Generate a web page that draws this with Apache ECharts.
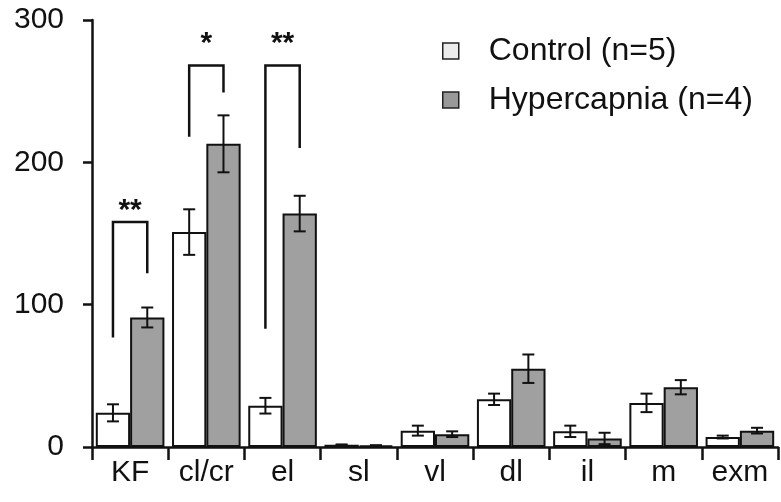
<!DOCTYPE html>
<html>
<head>
<meta charset="utf-8">
<script src="https://cdn.jsdelivr.net/npm/echarts@6/dist/echarts.min.js"></script>
<style>
  html, body { margin: 0; padding: 0; background: #fff; }
  #chart { width: 781px; height: 502px; }
</style>
</head>
<body>
<div id="chart"></div>
<script>
var categories = ['KF', 'cl/cr', 'el', 'sl', 'vl', 'dl', 'il', 'm', 'exm'];
var controlMean = [24, 151, 29, 1.5, 11.5, 33.5, 11, 31, 7];
var controlErr = [6, 16, 5.5, 0.3, 3.5, 4, 4, 6.5, 1];
var hyperMean = [91, 213, 164, 1, 9, 55, 6, 42, 11.5];
var hyperErr = [7, 20, 12.5, 0.3, 2, 10, 4, 5, 2];
var yTicks = [0, 100, 200, 300];

// significance brackets: category, left leg bottom, top, right leg bottom, stars, stars y
var bracketCat = [0, 1, 2];
var bracketLeft = [77, 218, 83];
var bracketTop = [158, 268, 268];
var bracketRight = [122, 249, 210];
var bracketText = ['**', '*', '**'];
var bracketTextY = [166, 283, 283];

var FONT = '"Liberation Sans", Arial, sans-serif';
var INK = '#111';
var GAP = 0.1; // barCategoryGap

function barCenter(api, cat, val, side) {
    var w = api.size([1, 0])[0];
    var bw = w * (1 - GAP) / 2;
    var p = api.coord([cat, val]);
    return [p[0] + side * bw / 2, p[1]];
}

function errorItem(side) {
    return function (params, api) {
        var cat = api.value(0), m = api.value(1), e = api.value(2);
        var hi = barCenter(api, cat, m + e, side);
        var lo = barCenter(api, cat, Math.max(m - e, 0), side);
        var cap = 6;
        var st = {stroke: INK, lineWidth: 2};
        return {
            type: 'group',
            children: [
                {type: 'line', shape: {x1: hi[0], y1: hi[1], x2: lo[0], y2: lo[1]}, style: st},
                {type: 'line', shape: {x1: hi[0] - cap, y1: hi[1], x2: hi[0] + cap, y2: hi[1]}, style: st},
                {type: 'line', shape: {x1: lo[0] - cap, y1: lo[1], x2: lo[0] + cap, y2: lo[1]}, style: st}
            ]
        };
    };
}

var ctrlErrData = [], hypErrData = [], bracketData = [];
for (var i = 0; i < categories.length; i++) {
    ctrlErrData.push([i, controlMean[i], controlErr[i]]);
    hypErrData.push([i, hyperMean[i], hyperErr[i]]);
}
for (var j = 0; j < bracketCat.length; j++) {
    bracketData.push([bracketCat[j], bracketLeft[j], bracketTop[j], bracketRight[j], bracketTextY[j], j]);
}

var chart = echarts.init(document.getElementById('chart'));
chart.setOption({
    animation: false,
    backgroundColor: '#fff',
    grid: {left: 92, right: 3, top: 20, bottom: 55, containLabel: false},
    legend: {
        orient: 'vertical',
        left: 437,
        top: 30,
        itemWidth: 16,
        itemHeight: 16,
        itemGap: 17,
        icon: 'rect',
        textStyle: {fontFamily: FONT, fontSize: 32, color: INK, padding: [0, 0, 0, 25]},
        data: [
            {name: 'Control (n=5)', itemStyle: {color: '#ececec', borderColor: '#222', borderWidth: 1.5}},
            {name: 'Hypercapnia (n=4)', itemStyle: {color: '#999', borderColor: '#222', borderWidth: 1.5}}
        ]
    },
    xAxis: {
        type: 'category',
        data: categories,
        axisLine: {lineStyle: {color: INK, width: 2.5}},
        axisTick: {show: true, length: 13, lineStyle: {color: INK, width: 2.5}},
        axisLabel: {fontFamily: FONT, fontSize: 30, color: INK, margin: 11}
    },
    yAxis: {
        type: 'value',
        min: yTicks[0],
        max: yTicks[yTicks.length - 1],
        interval: yTicks[1] - yTicks[0],
        splitLine: {show: false},
        axisLine: {show: true, lineStyle: {color: INK, width: 2.5}},
        axisTick: {show: true, length: 9, lineStyle: {color: INK, width: 2.5}},
        axisLabel: {fontFamily: FONT, fontSize: 30, color: INK, margin: 28, padding: [6, 0, 0, 0]}
    },
    series: [
        {
            name: 'Control (n=5)',
            type: 'bar',
            data: controlMean,
            barGap: 0,
            barCategoryGap: (GAP * 100) + '%',
            itemStyle: {color: '#fff', borderColor: INK, borderWidth: 2}
        },
        {
            name: 'Hypercapnia (n=4)',
            type: 'bar',
            data: hyperMean,
            barGap: 0,
            barCategoryGap: (GAP * 100) + '%',
            itemStyle: {color: '#a0a0a0', borderColor: INK, borderWidth: 2}
        },
        {
            type: 'custom',
            renderItem: errorItem(-1),
            data: ctrlErrData,
            z: 5,
            silent: true
        },
        {
            type: 'custom',
            renderItem: errorItem(1),
            data: hypErrData,
            z: 5,
            silent: true
        },
        {
            type: 'custom',
            z: 5,
            silent: true,
            data: bracketData,
            renderItem: function (params, api) {
                var cat = api.value(0);
                var lb = barCenter(api, cat, api.value(1), -1);
                var lt = barCenter(api, cat, api.value(2), -1);
                var rt = barCenter(api, cat, api.value(2), 1);
                var rb = barCenter(api, cat, api.value(3), 1);
                var ty = api.coord([cat, api.value(4)])[1];
                var cx = (lt[0] + rt[0]) / 2;
                return {
                    type: 'group',
                    children: [
                        {
                            type: 'polyline',
                            shape: {points: [lb, lt, rt, rb]},
                            style: {stroke: INK, lineWidth: 2.5, fill: null}
                        },
                        {
                            type: 'text',
                            x: cx,
                            y: ty,
                            style: {
                                text: bracketText[api.value(5)],
                                fontFamily: FONT,
                                fontSize: 30,
                                fontWeight: 'bold',
                                fill: INK,
                                align: 'center',
                                verticalAlign: 'middle'
                            }
                        }
                    ]
                };
            }
        }
    ]
});
</script>
</body>
</html>
